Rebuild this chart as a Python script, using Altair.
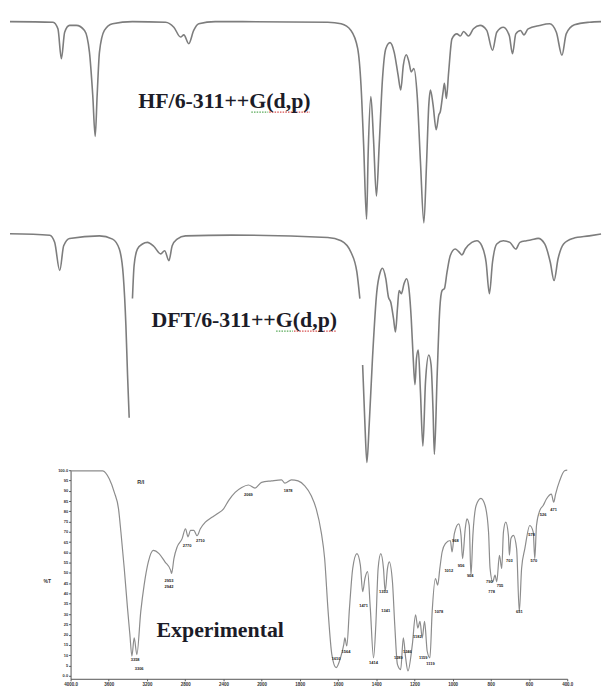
import altair as alt
import pandas as pd

# ---------------- HF/6-311++G(d,p) calculated spectrum ----------------
hf_wavenumber = [4000, 3738, 3708, 3687, 3667, 3637, 3596, 3546, 3516, 3496, 3481, 3469, 3455, 3425, 3375,
                 3254, 3052, 3002, 2961, 2941, 2911, 2881, 2850, 2750, 2064, 1983, 1923, 1882, 1862, 1846,
                 1828, 1818, 1802, 1786, 1768, 1751, 1731, 1711, 1685, 1660, 1636, 1620, 1604, 1586, 1570,
                 1556, 1540, 1520, 1500, 1479, 1463, 1449, 1439, 1423, 1404, 1388, 1379, 1362, 1354, 1342,
                 1328, 1308, 1278, 1257, 1237, 1207, 1177, 1137, 1096, 1061, 1035, 995, 959, 939, 919,
                 890, 870, 844, 774, 713, 672, 638, 612, 562, 471, 400]
hf_transmittance = [100.3, 100, 96.7, 81.8, 95, 98.4, 98.4, 95.9, 85.1, 63.7, 43.1, 63.7, 85.1, 95.9, 99.2,
                    100.3, 100, 97.5, 92.6, 93.7, 89.3, 95.9, 99.2, 100.3, 100, 99.2, 95.9, 86.8, 68.7, 39,
                    1.8, 35.6, 62.9, 42.2, 13.4, 39, 71.9, 86.8, 89.8, 85.1, 73.6, 66.2, 78.6, 83.8, 80.2,
                    75.2, 76.9, 63.7, 30.7, 0, 29.1, 58.8, 66.2, 58.8, 46.4, 53.8, 55.4, 65.3, 69.5, 62,
                    75.2, 91.7, 94.2, 93.1, 95.4, 93.1, 96.7, 98.4, 95.9, 86, 95, 97.5, 93.4, 84.3, 94.2,
                    95.9, 93.7, 96.7, 98.4, 99.2, 95, 83.5, 94.2, 98.7, 100, 100.3]

# ---------------- DFT/6-311++G(d,p) calculated spectrum (drawn in 3 pieces) ----------------
dft_wavenumber = [4000, 3758, 3728, 3697, 3673, 3637, 3455, 3375, 3334, 3310, 3294, 3284, 3274,
                  3254, 3244, 3224, 3193, 3163, 3123, 3082, 3058, 3032, 3012, 2982, 2931, 2651, 2064, 1983,
                  1923, 1887, 1869,
                  1852, 1838, 1826, 1812, 1792, 1766, 1745, 1731, 1711, 1695, 1681, 1664, 1652, 1640, 1630,
                  1616, 1600, 1584, 1570, 1556, 1544, 1533, 1524, 1513, 1500, 1485, 1469, 1449, 1435, 1423,
                  1415, 1398, 1382, 1368, 1354, 1338, 1318, 1288, 1267, 1247, 1227, 1187, 1156, 1126, 1100,
                  1080, 1061, 1035, 995, 955, 919, 894, 854, 824, 783, 743, 709, 686, 662, 628, 571, 471, 400]
dft_transmittance = [100, 99.4, 96.3, 84.1, 94.8, 98, 99.1, 97.7, 93.4, 82, 60.5, 39.1, 20.5,
                     72, 86.3, 93.4, 95.6, 96.3, 94.5, 91.3, 92.7, 88.4, 94.8, 97.7, 99.1, 99.4, 98.4, 97,
                     92, 83.4, 72,
                     43.3, 17.6, 1.2, 17.6, 46.2, 74.8, 83.4, 85.1, 80.6, 72.7, 70.5, 63.4, 57.6, 67.7, 75.5,
                     74.1, 78.4, 80.6, 76.3, 63.4, 46.2, 34.8, 46.2, 49.8, 31.9, 8.3, 36.2, 47.6, 43.3, 23.3,
                     4.7, 39.1, 67.7, 75.5, 76.3, 83.4, 90.6, 93.4, 92.3, 90.9, 93.4, 96.3, 97, 94.8, 87.7,
                     74.1, 87.7, 95.6, 97, 96.3, 93.4, 96.3, 97, 97.4, 98, 95.6, 87.7, 79.8, 89.1, 95.6, 98,
                     99.1, 99.9]
dft_piece_lengths = [13, 18, 63]

# ---------------- Experimental FT-IR spectrum ----------------
exp_wavenumber = [4000, 3664, 3594, 3542, 3498, 3473, 3438, 3404, 3379, 3358,
                  3334, 3306, 3265, 3230, 3186, 3134, 3074, 3012, 2953, 2942,
                  2918, 2884, 2832, 2797, 2770, 2745, 2710, 2676, 2641, 2589,
                  2520, 2468, 2398, 2346, 2277, 2208, 2138, 2069, 2000, 1948,
                  1896, 1878, 1844, 1809, 1774, 1740, 1714, 1688, 1670, 1653,
                  1632, 1610, 1587, 1570, 1564, 1554, 1540, 1523, 1501, 1483,
                  1471, 1459, 1445, 1431, 1414, 1402, 1390, 1376, 1362, 1353,
                  1341, 1332, 1315, 1303, 1289, 1272, 1258, 1246, 1234, 1211,
                  1194, 1182, 1171, 1159, 1147, 1133, 1119, 1107, 1090, 1078,
                  1067, 1055, 1038, 1012, 1003, 991, 968, 956, 948, 934,
                  925, 913, 904, 894, 877, 852, 830, 812, 804, 790,
                  778, 769, 755, 743, 734, 722, 708, 703, 695, 682,
                  665, 651, 639, 622, 596, 578, 570, 561, 544, 526,
                  509, 483, 471, 461, 440, 414, 400]
exp_transmittance = [99.7, 99.7, 95.7, 89.2, 81.2, 69.9, 52.2, 32.9, 20, 9.5,
                     18.4, 10.3, 31.3, 44.1, 55.4, 61, 59.4, 55.4, 51.4, 49.8,
                     57, 62.7, 66.7, 71.5, 67.6, 70.7, 70.7, 68.1, 71.5, 74.7,
                     77.1, 78.7, 81.2, 85.2, 89.2, 91.6, 92.8, 91.3, 94.1, 94.8,
                     95.3, 93.7, 95.3, 94.8, 92.4, 87.6, 81.2, 69.9, 57, 32.9,
                     10.1, 3.9, 8.7, 15.1, 18.4, 14.5, 32.9, 52.2, 59.4, 53.8,
                     40.9, 47.3, 50.6, 32.9, 8.7, 24.8, 52.2, 59.4, 52.2, 41.1,
                     52.2, 55.4, 45.7, 24.8, 5.5, 3.0, 18.4, 8.7, 2.3, 15.1,
                     29.6, 23.2, 26.4, 18.4, 26.4, 11.9, 8.7, 31.3, 47.3, 44.1,
                     52.2, 60.2, 64.3, 65.8, 60.2, 69.1, 73.9, 68.3, 57, 71.5,
                     76.3, 73.1, 48.9, 68.3, 82.8, 86.3, 82.8, 69.9, 52.2, 45.7,
                     48.9, 45.7, 58.6, 52.2, 69.9, 74.7, 68.3, 58.6, 66.7, 68.3,
                     61.8, 31.3, 52.2, 61.8, 73.1, 69.9, 57, 73.1, 80.3, 82.8,
                     86, 88.4, 84.4, 88.4, 94.8, 99.7, 100]

# peak annotations on the experimental spectrum
peak_label_wavenumber = [3324, 3282, 2970, 2970, 2780, 2641, 2138, 1861, 1610, 1558,
                         1466, 1414, 1362, 1350, 1284, 1237, 1185, 1154, 1116, 1072,
                         1020, 986, 956, 908, 808, 796, 752, 703, 651, 587,
                         575, 526, 471]
peak_label_t = [7.4, 3.5, 46, 43.3, 63.1, 65.7, 88.1, 90, 8.2, 11.6,
                34, 6.3, 40.9, 31.3, 8.7, 11.4, 18.8, 8.7, 5.5, 30.9,
                50.9, 65.6, 53.3, 48.5, 45.7, 40.9, 43.6, 55.9, 30.9, 68.3,
                55.9, 78.3, 80.8]
peak_label_text = ["3358", "3306", "2953", "2942", "2770", "2710", "2069", "1878", "1610", "1564",
                   "1471", "1414", "1353", "1341", "1289", "1246", "1182", "1159", "1119", "1078",
                   "1012", "968", "956", "904", "790", "778", "755", "703", "651", "578",
                   "570", "526", "471"]

x_ticks = [4000, 3600, 3200, 2800, 2400, 2000, 1800, 1600, 1400, 1200, 1000, 800, 600, 400]
y_ticks = list(range(0, 101, 5))

# panel titles (wavenumber / transmittance anchor on each panel's scales)
panel_titles = ["HF/6-311++G(d,p)", "DFT/6-311++G(d,p)", "Experimental"]
panel_title_w = [2694, 2573, 2433]
panel_title_t = [57.4, 59.8, 18.7]

# spell-check underlines: green under "G", red under "(d,p)" in the two calculated titles
underline_w1 = [2530, 2421, 2379, 2270]
underline_w2 = [2427, 2173, 2276, 2016]
underline_t = [55.2, 55.2, 57.9, 57.9]
underline_color = ["#3a9a3a", "#d03030", "#3a9a3a", "#d03030"]
underline_panel = ["HF", "HF", "DFT", "DFT"]

# ---------------- data frames ----------------
hf_df = pd.DataFrame({"w": hf_wavenumber, "t": hf_transmittance, "i": range(len(hf_wavenumber))})
seg = []
for k, n in enumerate(dft_piece_lengths):
    seg += [k] * n
dft_df = pd.DataFrame({"w": dft_wavenumber, "t": dft_transmittance, "seg": seg,
                       "i": range(len(dft_wavenumber))})
exp_df = pd.DataFrame({"w": exp_wavenumber, "t": exp_transmittance, "i": range(len(exp_wavenumber))})
peak_df = pd.DataFrame({"w": peak_label_wavenumber, "t": peak_label_t, "txt": peak_label_text})
ul_df = pd.DataFrame({"w1": underline_w1, "w2": underline_w2, "t": underline_t,
                      "col": underline_color, "panel": underline_panel})

# ---------------- scales (each panel placed by its own scale range) ----------------
calc_x = alt.Scale(domain=[4000, 400], range=[2, 597], nice=False, zero=False)
hf_y = alt.Scale(domain=[0, 100], range=[214, 12], nice=False, zero=False)
dft_y = alt.Scale(domain=[0, 100], range=[458, 225], nice=False, zero=False)
exp_x = alt.Scale(domain=[4000, 2000, 400], range=[63, 255.3, 563], nice=False, zero=False)
exp_y = alt.Scale(domain=[-1.5, 100], range=[673, 463], nice=False, zero=False)

line_col = "#7d7d7d"

hf_line = alt.Chart(hf_df).mark_line(color=line_col, strokeWidth=1.6, interpolate="monotone").encode(
    x=alt.X("w:Q", scale=calc_x, axis=None),
    y=alt.Y("t:Q", scale=hf_y, axis=None),
    order=alt.Order("i:Q"),
)

dft_line = alt.Chart(dft_df).mark_line(color=line_col, strokeWidth=1.6, interpolate="monotone").encode(
    x=alt.X("w:Q", scale=calc_x, axis=None),
    y=alt.Y("t:Q", scale=dft_y, axis=None),
    detail="seg:N",
    order=alt.Order("i:Q"),
)

exp_line = alt.Chart(exp_df).mark_line(color="#8c8c8c", strokeWidth=1.2, interpolate="monotone").encode(
    x=alt.X("w:Q", scale=exp_x,
            axis=alt.Axis(orient="bottom", values=x_ticks, title=None, grid=False,
                          labelExpr="datum.value == 4000 ? '4000.0' : datum.value == 400 ? '400.0' : '' + datum.value",
                          labelFontSize=4.5, labelFont="Liberation Sans", labelFontWeight="bold",
                          labelColor="#333333", labelPadding=1, tickSize=2, tickColor="#555555",
                          domainColor="#555555", labelOverlap=False, labelFlush=False)),
    y=alt.Y("t:Q", scale=exp_y,
            axis=alt.Axis(orient="left", offset=-63, values=y_ticks, grid=False,
                          labelExpr="datum.value == 100 ? '100.0' : datum.value == 0 ? '0.0' : '' + datum.value",
                          labelFontSize=4, labelFont="Liberation Sans", labelFontWeight="bold",
                          labelColor="#333333", labelPadding=1, tickSize=2, tickColor="#555555",
                          domainColor="#555555", labelOverlap=False, labelFlush=False,
                          title="%T", titleAngle=0, titleX=-24, titleY=574, titleFontSize=5,
                          titleFont="Liberation Sans", titleFontWeight="bold", titleColor="#333333",
                          titleAlign="center", titleBaseline="middle")),
    order=alt.Order("i:Q"),
)

peak_text = alt.Chart(peak_df).mark_text(fontSize=4, font="Liberation Sans", fontWeight="bold",
                                         color="#222222", baseline="middle", align="center").encode(
    x=alt.X("w:Q", scale=exp_x, axis=None),
    y=alt.Y("t:Q", scale=exp_y, axis=None),
    text="txt:N",
)

sample_df = pd.DataFrame({"w": [3265], "t": [94.3], "txt": ["R/I"]})
sample_text = alt.Chart(sample_df).mark_text(fontSize=5.5, font="Liberation Sans", fontWeight="bold",
                                             color="#333333").encode(
    x=alt.X("w:Q", scale=exp_x, axis=None),
    y=alt.Y("t:Q", scale=exp_y, axis=None),
    text="txt:N",
)

title_font = dict(font="Liberation Serif", fontWeight="bold", fontSize=22, color="#1c1c28",
                  align="center", baseline="alphabetic")

hf_title = alt.Chart(pd.DataFrame({"w": [panel_title_w[0]], "t": [panel_title_t[0]],
                                   "txt": [panel_titles[0]]})).mark_text(**title_font).encode(
    x=alt.X("w:Q", scale=calc_x, axis=None), y=alt.Y("t:Q", scale=hf_y, axis=None), text="txt:N")
dft_title = alt.Chart(pd.DataFrame({"w": [panel_title_w[1]], "t": [panel_title_t[1]],
                                    "txt": [panel_titles[1]]})).mark_text(**title_font).encode(
    x=alt.X("w:Q", scale=calc_x, axis=None), y=alt.Y("t:Q", scale=dft_y, axis=None), text="txt:N")
exp_title = alt.Chart(pd.DataFrame({"w": [panel_title_w[2]], "t": [panel_title_t[2]],
                                    "txt": [panel_titles[2]]})).mark_text(**title_font).encode(
    x=alt.X("w:Q", scale=exp_x, axis=None), y=alt.Y("t:Q", scale=exp_y, axis=None), text="txt:N")

ul_style = dict(strokeWidth=1.3, strokeDash=[1.5, 1.2], opacity=0.85)
hf_ul = alt.Chart(ul_df).transform_filter(alt.datum.panel == "HF").mark_rule(**ul_style).encode(
    x=alt.X("w1:Q", scale=calc_x, axis=None), x2="w2:Q",
    y=alt.Y("t:Q", scale=hf_y, axis=None),
    color=alt.Color("col:N", scale=None))
dft_ul = alt.Chart(ul_df).transform_filter(alt.datum.panel == "DFT").mark_rule(**ul_style).encode(
    x=alt.X("w1:Q", scale=calc_x, axis=None), x2="w2:Q",
    y=alt.Y("t:Q", scale=dft_y, axis=None),
    color=alt.Color("col:N", scale=None))

chart = alt.layer(
    exp_line, hf_line, dft_line, peak_text, sample_text, hf_ul, dft_ul, hf_title, dft_title, exp_title
).resolve_scale(x="independent", y="independent").properties(
    width=600, height=673,
    autosize=alt.AutoSizeParams(type="none"),
    padding={"left": 0, "top": 0, "right": 0, "bottom": 11},
    background="white",
).configure_view(stroke=None)

chart.save("out.html", embed_options={"renderer": "svg", "actions": False})
